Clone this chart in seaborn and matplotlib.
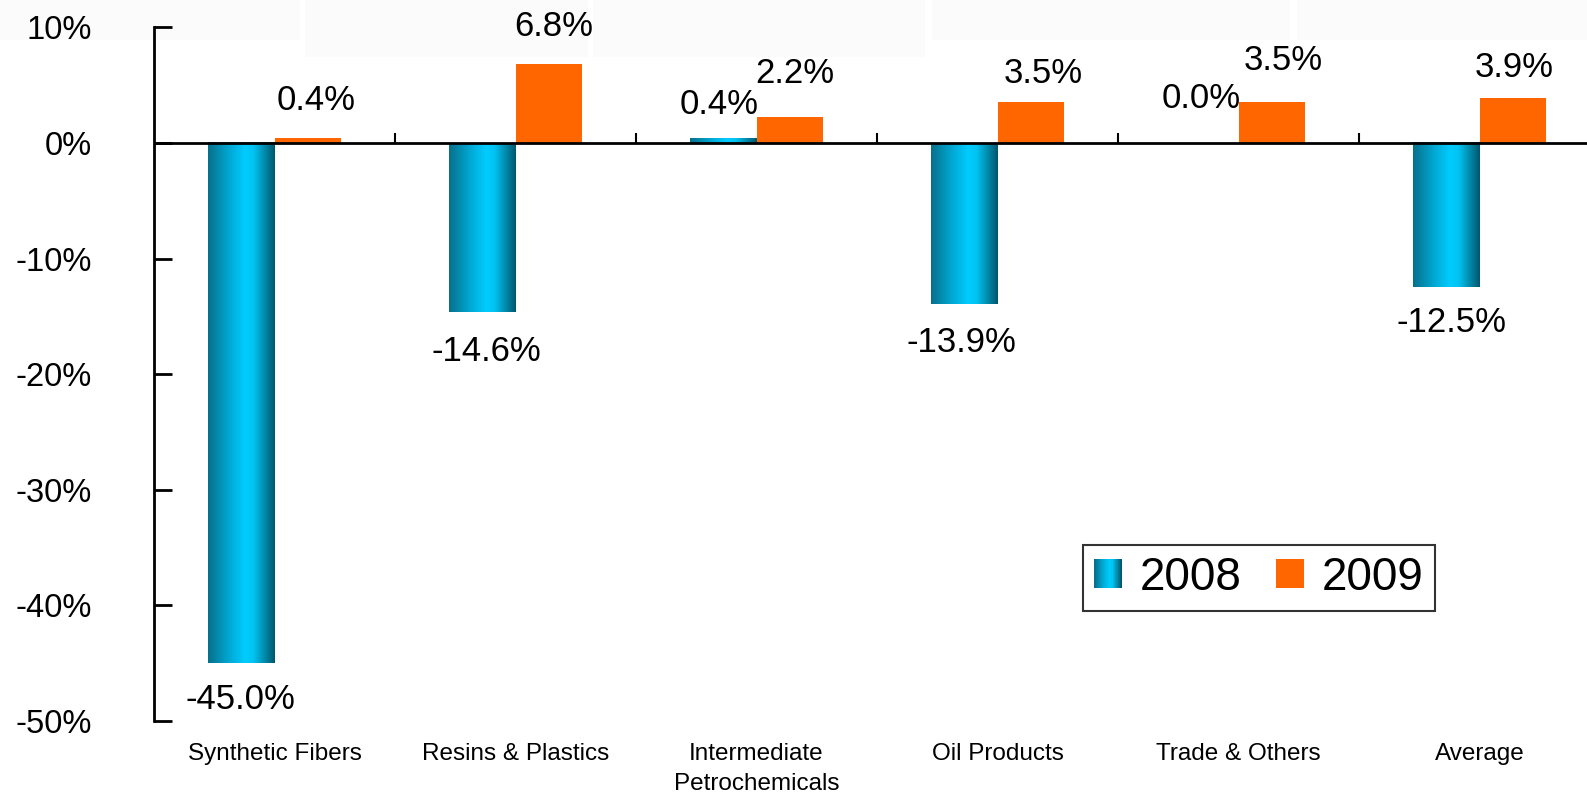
import numpy as np
import pandas as pd
import matplotlib
matplotlib.use("Agg")
import matplotlib.pyplot as plt
import seaborn as sns
from matplotlib.colors import LinearSegmentedColormap
from matplotlib.legend_handler import HandlerBase
from matplotlib.patches import Rectangle

# ---------------- data ----------------
categories = ["Synthetic Fibers", "Resins & Plastics", "Intermediate\nPetrochemicals",
              "Oil Products", "Trade & Others", "Average"]
series = ["2008", "2009"]
values_2008 = [-45.0, -14.6, 0.4, -13.9, 0.0, -12.5]
values_2009 = [0.4, 6.8, 2.2, 3.5, 3.5, 3.9]
labels_2008 = ["-45.0%", "-14.6%", "0.4%", "-13.9%", "0.0%", "-12.5%"]
labels_2009 = ["0.4%", "6.8%", "2.2%", "3.5%", "3.5%", "3.9%"]
yticks = [10, 0, -10, -20, -30, -40, -50]
ytick_labels = ["10%", "0%", "-10%", "-20%", "-30%", "-40%", "-50%"]

# label offsets in points (style)
off_2008 = [(-1, -26), (3, -29), (-3, 24), (-2, -28), (-3, 32), (4, -25)]
off_2009 = [(6, 27), (4, 27), (4, 32), (9, 21), (8, 30), (1, 22)]

sns.set_style("white")
plt.rcParams["font.family"] = ["Liberation Sans", "DejaVu Sans"]

W, H = 1587, 795
fig = plt.figure(figsize=(W / 100, H / 100), dpi=100)
fig.patch.set_facecolor("white")

# faint background blocks at the top
for x0, x1, h in [(0, 300, 40), (305, 588, 57), (593, 925, 57), (932, 1290, 40), (1297, 1587, 40)]:
    fig.add_artist(Rectangle((x0 / W, 1 - h / H), (x1 - x0) / W, h / H,
                             transform=fig.transFigure, fc="#fbfbfb", ec="none", zorder=-10))

ax = fig.add_axes([154 / W, 74 / H, (1600 - 154) / W, 693.7 / H])
ax.patch.set_alpha(0)

df = pd.DataFrame({
    "category": categories * 2,
    "year": [series[0]] * len(categories) + [series[1]] * len(categories),
    "value": values_2008 + values_2009,
})

sns.barplot(data=df, x="category", y="value", hue="year", hue_order=series,
            palette=["#00c8f5", "#ff6600"], width=0.55, saturation=1,
            errorbar=None, legend=False, ax=ax, edgecolor="none", linewidth=0)

cmap = LinearSegmentedColormap.from_list(
    "cyan_grad", [(0.0, "#07708c"), (0.3, "#00a6cf"), (0.55, "#00ccff"),
                  (0.68, "#00c4f2"), (1.0, "#00566c")])
grad = np.linspace(0, 1, 256).reshape(1, -1)

for bar in ax.containers[0]:
    x, y = bar.get_x(), bar.get_y()
    w, h = bar.get_width(), bar.get_height()
    if abs(h) < 1e-9:
        continue
    ax.imshow(grad, extent=[x, x + w, y, y + h], aspect="auto", cmap=cmap,
              zorder=bar.get_zorder() + 0.1, interpolation="bilinear")
    bar.set_facecolor("none")

# value labels
for bar, lab, off in zip(ax.containers[0], labels_2008, off_2008):
    ax.annotate(lab, (bar.get_x() + bar.get_width() / 2, bar.get_y() + bar.get_height()),
                xytext=off, textcoords="offset points", ha="center", va="center",
                fontsize=25, color="black")
for bar, lab, off in zip(ax.containers[1], labels_2009, off_2009):
    ax.annotate(lab, (bar.get_x() + bar.get_width() / 2, bar.get_y() + bar.get_height()),
                xytext=off, textcoords="offset points", ha="center", va="center",
                fontsize=25, color="black")

ax.set_xlim(-0.5, len(categories) - 0.5)
ax.set_ylim(-50, 10)

# zero line and category boundary ticks
ax.axhline(0, color="black", lw=2, zorder=5)
ax.vlines(np.arange(len(categories) - 1) + 0.5, 0, 0.9, color="black", lw=1.5, zorder=5)

for s in ["top", "right", "bottom"]:
    ax.spines[s].set_visible(False)
ax.spines["left"].set_color("black")
ax.spines["left"].set_linewidth(2)

ax.set_yticks(yticks)
ax.set_yticklabels(ytick_labels)
ax.tick_params(axis="y", left=True, direction="in", length=13, width=2, pad=45,
               labelsize=23.5, colors="black")
ax.set_xticks(range(len(categories)))
ax.set_xticklabels(categories, fontsize=17.5, linespacing=1.45)
ax.tick_params(axis="x", bottom=False, length=0, pad=16, colors="black")
ax.set_xlabel("")
ax.set_ylabel("")


class GradientHandler(HandlerBase):
    def create_artists(self, legend, orig_handle, xdescent, ydescent, width, height,
                       fontsize, trans):
        n = 40
        arts = []
        for i in range(n):
            r = Rectangle((-xdescent + width * i / n, -ydescent), width / n * 1.05, height,
                          facecolor=cmap(i / (n - 1)), edgecolor="none", transform=trans)
            arts.append(r)
        return arts


h2008 = Rectangle((0, 0), 1, 1, fc="#00c8f5")
h2009 = Rectangle((0, 0), 1, 1, fc="#ff6600", ec="none")
leg = fig.legend([h2008, h2009], series, handler_map={h2008: GradientHandler()},
                 loc="center", bbox_to_anchor=(1259 / W, 1 - 578 / H), ncol=2,
                 fontsize=33, frameon=True, fancybox=False, edgecolor="black",
                 handlelength=0.6, handleheight=0.6, handletextpad=0.4,
                 columnspacing=0.75, borderpad=0.25, borderaxespad=0)
leg.get_frame().set_linewidth(1.5)
for t in leg.get_texts():
    t.set_color("black")

fig.savefig("out.png", dpi=100, facecolor="white")
